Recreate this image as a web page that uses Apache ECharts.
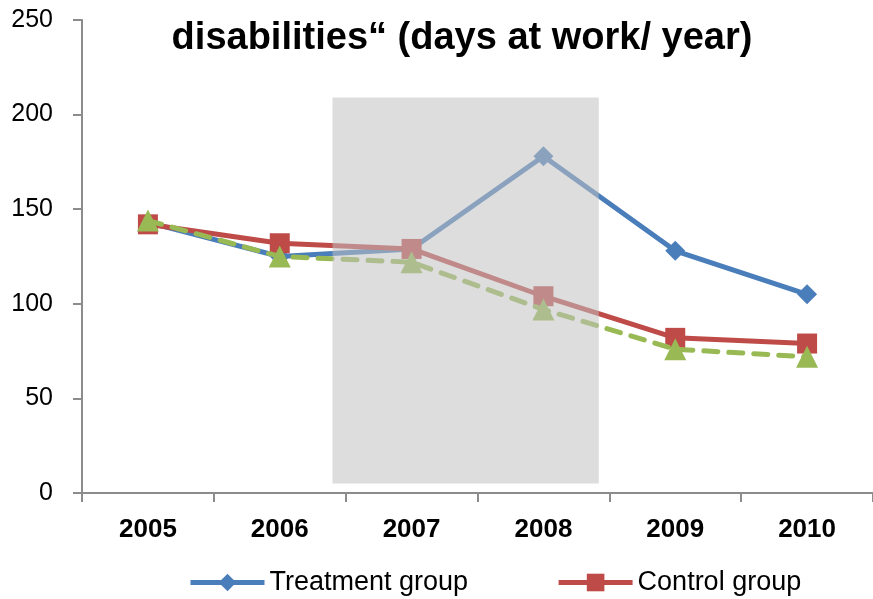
<!DOCTYPE html>
<html>
<head>
<meta charset="utf-8">
<script src="https://cdn.jsdelivr.net/npm/echarts@6/dist/echarts.min.js"></script>
<style>
  html, body { margin: 0; padding: 0; background: #ffffff; }
  #chart { width: 873px; height: 599px; }
</style>
</head>
<body>
<div id="chart"></div>
<script>
// Years on the category axis
const years = ['2005', '2006', '2007', '2008', '2009', '2010'];

// Days at work per year for each group
const treatment = [143, 125, 129, 178, 128, 105];
const control = [142, 132, 129, 104, 82, 79];
const reference = [144, 125, 122, 97, 76, 72];

// Shaded period: x range in category units, y range in days
const shadeX = [1.4, 3.42];
const shadeY = [5, 209];

// Title text (second line of a two-line heading)
const titleText = 'disabilities\u201C (days at work/ year)';

const axisGray = '#8c8c8c';
const chart = echarts.init(document.getElementById('chart'), null, { renderer: 'canvas' });

chart.setOption({
  animation: false,
  backgroundColor: '#ffffff',
  textStyle: { fontFamily: 'Liberation Sans, Arial, sans-serif' },
  graphic: [{
    type: 'text',
    x: 462,
    y: 20,
    style: {
      text: titleText,
      font: 'bold 38px "Liberation Sans", Arial, sans-serif',
      fill: '#000000',
      textAlign: 'center',
      textVerticalAlign: 'top'
    },
    z: 10
  }],
  grid: { left: 82, right: 0, top: 20, bottom: 106, containLabel: false },
  legend: {
    data: ['Treatment group', 'Control group'],
    left: 188,
    top: 569,
    padding: 0,
    itemWidth: 74,
    itemHeight: 22,
    itemGap: 88,
    lineStyle: { width: 5 },
    textStyle: { fontSize: 27, color: '#000000', fontFamily: 'Liberation Sans, Arial, sans-serif' }
  },
  xAxis: [{
    type: 'category',
    data: years,
    boundaryGap: true,
    axisLine: { lineStyle: { color: axisGray, width: 2 } },
    axisTick: { show: true, length: 9, lineStyle: { color: axisGray, width: 2 } },
    axisLabel: { margin: 24, fontSize: 26, fontWeight: 'bold', color: '#000000' },
    splitLine: { show: false }
  }, {
    type: 'value',
    min: -0.5,
    max: 5.5,
    show: false
  }],
  yAxis: {
    type: 'value',
    min: 0,
    max: 250,
    interval: 50,
    axisLine: { show: true, onZero: false, lineStyle: { color: axisGray, width: 2 } },
    axisTick: { show: true, length: 9, lineStyle: { color: axisGray, width: 2 } },
    axisLabel: { margin: 29, fontSize: 25, color: '#000000' },
    splitLine: { show: false }
  },
  series: [{
    name: 'Treatment group',
    type: 'line',
    data: treatment,
    symbol: 'diamond',
    symbolSize: 20,
    lineStyle: { color: '#4a7ebb', width: 5 },
    itemStyle: { color: '#4a7ebb' },
    z: 2
  }, {
    name: 'Control group',
    type: 'line',
    data: control,
    symbol: 'rect',
    symbolSize: 20,
    lineStyle: { color: '#be4b48', width: 5 },
    itemStyle: { color: '#be4b48' },
    z: 3
  }, {
    name: 'Reference group',
    type: 'line',
    data: reference,
    symbol: 'triangle',
    symbolSize: 22,
    lineStyle: { color: '#98b954', width: 5, type: [14, 11], cap: 'round' },
    itemStyle: { color: '#98b954' },
    z: 4
  }, {
    name: 'Shaded period',
    type: 'custom',
    xAxisIndex: 1,
    data: [[shadeX[0], shadeY[0], shadeX[1], shadeY[1]]],
    renderItem: function (params, api) {
      const p0 = api.coord([api.value(0), api.value(3)]);
      const p1 = api.coord([api.value(2), api.value(1)]);
      return {
        type: 'rect',
        shape: { x: p0[0], y: p0[1], width: p1[0] - p0[0], height: p1[1] - p0[1] },
        style: { fill: 'rgba(193,193,193,0.54)' }
      };
    },
    silent: true,
    z: 5
  }]
});
</script>
</body>
</html>
